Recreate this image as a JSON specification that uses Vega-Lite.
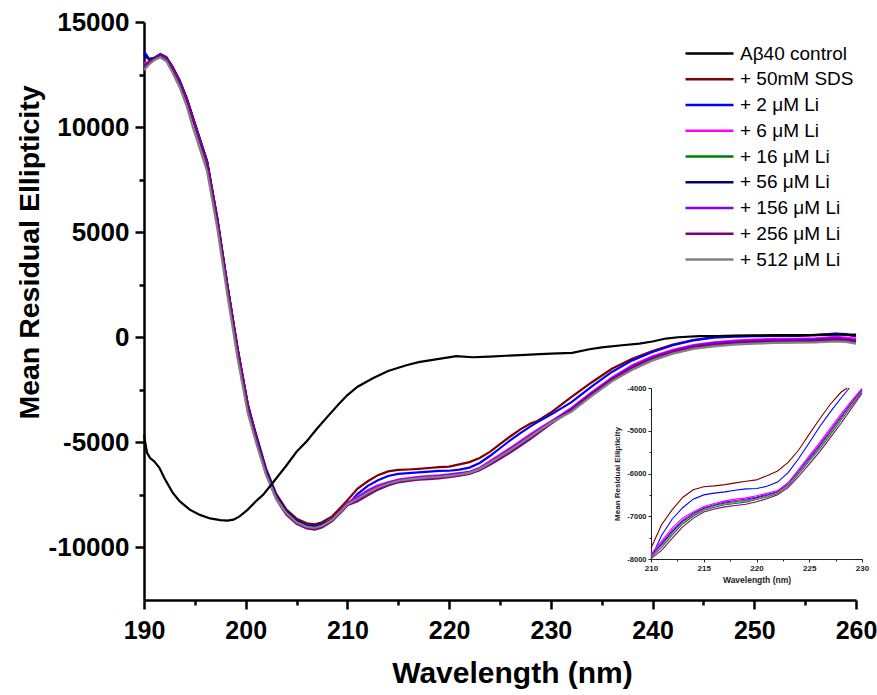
{
  "$schema": "https://vega.github.io/schema/vega-lite/v6.json",
  "width": 712,
  "height": 578,
  "autosize": {"type": "none"},
  "padding": {"left": 144, "top": 22, "right": 21, "bottom": 95},
  "background": "white",
  "config": {"view": {"stroke": null}, "font": "Liberation Sans"},
  "data": {"values": [
    {"w":190,"+ 50mM SDS":13000,"+ 2 μM Li":13600,"+ 6 μM Li":13050,"+ 16 μM Li":12900,"+ 56 μM Li":13450,"+ 156 μM Li":12800,"+ 256 μM Li":12950,"+ 512 μM Li":12700},
    {"w":190.5,"+ 50mM SDS":13100,"+ 2 μM Li":13250,"+ 6 μM Li":13080,"+ 16 μM Li":13050,"+ 56 μM Li":13200,"+ 156 μM Li":13000,"+ 256 μM Li":13080,"+ 512 μM Li":12980},
    {"w":191,"+ 50mM SDS":13250,"+ 2 μM Li":13300,"+ 6 μM Li":13250,"+ 16 μM Li":13220,"+ 56 μM Li":13280,"+ 156 μM Li":13230,"+ 256 μM Li":13260,"+ 512 μM Li":13180},
    {"w":191.6,"+ 50mM SDS":13400,"+ 2 μM Li":13450,"+ 6 μM Li":13400,"+ 16 μM Li":13350,"+ 56 μM Li":13480,"+ 156 μM Li":13430,"+ 256 μM Li":13450,"+ 512 μM Li":13320},
    {"w":192.2,"+ 50mM SDS":13250,"+ 2 μM Li":13300,"+ 6 μM Li":13250,"+ 16 μM Li":13200,"+ 56 μM Li":13330,"+ 156 μM Li":13280,"+ 256 μM Li":13300,"+ 512 μM Li":13130},
    {"w":192.8,"+ 50mM SDS":12800,"+ 2 μM Li":12850,"+ 6 μM Li":12800,"+ 16 μM Li":12750,"+ 56 μM Li":12880,"+ 156 μM Li":12830,"+ 256 μM Li":12850,"+ 512 μM Li":12600},
    {"w":193.5,"+ 50mM SDS":12150,"+ 2 μM Li":12200,"+ 6 μM Li":12150,"+ 16 μM Li":12100,"+ 56 μM Li":12230,"+ 156 μM Li":12180,"+ 256 μM Li":12200,"+ 512 μM Li":11900},
    {"w":194.2,"+ 50mM SDS":11300,"+ 2 μM Li":11350,"+ 6 μM Li":11300,"+ 16 μM Li":11250,"+ 56 μM Li":11380,"+ 156 μM Li":11330,"+ 256 μM Li":11350,"+ 512 μM Li":11000},
    {"w":194.8,"+ 50mM SDS":10400,"+ 2 μM Li":10450,"+ 6 μM Li":10400,"+ 16 μM Li":10350,"+ 56 μM Li":10480,"+ 156 μM Li":10430,"+ 256 μM Li":10450,"+ 512 μM Li":10000},
    {"w":195.5,"+ 50mM SDS":9350,"+ 2 μM Li":9400,"+ 6 μM Li":9350,"+ 16 μM Li":9300,"+ 56 μM Li":9430,"+ 156 μM Li":9380,"+ 256 μM Li":9400,"+ 512 μM Li":8950},
    {"w":196.2,"+ 50mM SDS":8300,"+ 2 μM Li":8350,"+ 6 μM Li":8300,"+ 16 μM Li":8250,"+ 56 μM Li":8380,"+ 156 μM Li":8330,"+ 256 μM Li":8350,"+ 512 μM Li":7900},
    {"w":197.2,"+ 50mM SDS":5600,"+ 2 μM Li":5650,"+ 6 μM Li":5600,"+ 16 μM Li":5550,"+ 56 μM Li":5680,"+ 156 μM Li":5630,"+ 256 μM Li":5650,"+ 512 μM Li":5200},
    {"w":198.2,"+ 50mM SDS":2400,"+ 2 μM Li":2450,"+ 6 μM Li":2400,"+ 16 μM Li":2350,"+ 56 μM Li":2480,"+ 156 μM Li":2430,"+ 256 μM Li":2450,"+ 512 μM Li":2000},
    {"w":199.2,"+ 50mM SDS":-600,"+ 2 μM Li":-550,"+ 6 μM Li":-600,"+ 16 μM Li":-650,"+ 56 μM Li":-520,"+ 156 μM Li":-570,"+ 256 μM Li":-550,"+ 512 μM Li":-1000},
    {"w":200.2,"+ 50mM SDS":-3250,"+ 2 μM Li":-3200,"+ 6 μM Li":-3250,"+ 16 μM Li":-3300,"+ 56 μM Li":-3170,"+ 156 μM Li":-3220,"+ 256 μM Li":-3200,"+ 512 μM Li":-3600},
    {"w":201.1,"+ 50mM SDS":-4750,"+ 2 μM Li":-4840,"+ 6 μM Li":-4930,"+ 16 μM Li":-4900,"+ 56 μM Li":-4880,"+ 156 μM Li":-4940,"+ 256 μM Li":-5000,"+ 512 μM Li":-5150},
    {"w":202,"+ 50mM SDS":-6250,"+ 2 μM Li":-6340,"+ 6 μM Li":-6430,"+ 16 μM Li":-6400,"+ 56 μM Li":-6380,"+ 156 μM Li":-6440,"+ 256 μM Li":-6500,"+ 512 μM Li":-6550},
    {"w":203,"+ 50mM SDS":-7450,"+ 2 μM Li":-7540,"+ 6 μM Li":-7630,"+ 16 μM Li":-7600,"+ 56 μM Li":-7580,"+ 156 μM Li":-7640,"+ 256 μM Li":-7700,"+ 512 μM Li":-7680},
    {"w":204,"+ 50mM SDS":-8200,"+ 2 μM Li":-8290,"+ 6 μM Li":-8380,"+ 16 μM Li":-8350,"+ 56 μM Li":-8330,"+ 156 μM Li":-8390,"+ 256 μM Li":-8450,"+ 512 μM Li":-8370},
    {"w":205,"+ 50mM SDS":-8630,"+ 2 μM Li":-8720,"+ 6 μM Li":-8810,"+ 16 μM Li":-8780,"+ 56 μM Li":-8760,"+ 156 μM Li":-8820,"+ 256 μM Li":-8880,"+ 512 μM Li":-8800},
    {"w":206,"+ 50mM SDS":-8850,"+ 2 μM Li":-8940,"+ 6 μM Li":-9030,"+ 16 μM Li":-9000,"+ 56 μM Li":-8980,"+ 156 μM Li":-9040,"+ 256 μM Li":-9100,"+ 512 μM Li":-9020},
    {"w":206.8,"+ 50mM SDS":-8900,"+ 2 μM Li":-8990,"+ 6 μM Li":-9080,"+ 16 μM Li":-9050,"+ 56 μM Li":-9030,"+ 156 μM Li":-9090,"+ 256 μM Li":-9150,"+ 512 μM Li":-9070},
    {"w":207.5,"+ 50mM SDS":-8800,"+ 2 μM Li":-8890,"+ 6 μM Li":-8980,"+ 16 μM Li":-8950,"+ 56 μM Li":-8930,"+ 156 μM Li":-8990,"+ 256 μM Li":-9050,"+ 512 μM Li":-8970},
    {"w":208.5,"+ 50mM SDS":-8520,"+ 2 μM Li":-8680,"+ 6 μM Li":-8650,"+ 16 μM Li":-8680,"+ 56 μM Li":-8660,"+ 156 μM Li":-8680,"+ 256 μM Li":-8750,"+ 512 μM Li":-8690},
    {"w":209.5,"+ 50mM SDS":-8020,"+ 2 μM Li":-8230,"+ 6 μM Li":-8150,"+ 16 μM Li":-8220,"+ 56 μM Li":-8190,"+ 156 μM Li":-8180,"+ 256 μM Li":-8260,"+ 512 μM Li":-8210},
    {"w":210,"+ 50mM SDS":-7750,"+ 2 μM Li":-7980,"+ 6 μM Li":-7890,"+ 16 μM Li":-7960,"+ 56 μM Li":-7930,"+ 156 μM Li":-7920,"+ 256 μM Li":-7990,"+ 512 μM Li":-7950},
    {"w":211,"+ 50mM SDS":-7200,"+ 2 μM Li":-7450,"+ 6 μM Li":-7580,"+ 16 μM Li":-7730,"+ 56 μM Li":-7660,"+ 156 μM Li":-7630,"+ 256 μM Li":-7800,"+ 512 μM Li":-7690},
    {"w":212,"+ 50mM SDS":-6850,"+ 2 μM Li":-7070,"+ 6 μM Li":-7280,"+ 16 μM Li":-7440,"+ 56 μM Li":-7370,"+ 156 μM Li":-7330,"+ 256 μM Li":-7520,"+ 512 μM Li":-7400},
    {"w":213,"+ 50mM SDS":-6560,"+ 2 μM Li":-6800,"+ 6 μM Li":-7040,"+ 16 μM Li":-7180,"+ 56 μM Li":-7120,"+ 156 μM Li":-7090,"+ 256 μM Li":-7250,"+ 512 μM Li":-7150},
    {"w":214,"+ 50mM SDS":-6380,"+ 2 μM Li":-6600,"+ 6 μM Li":-6900,"+ 16 μM Li":-7000,"+ 56 μM Li":-6960,"+ 156 μM Li":-6930,"+ 256 μM Li":-7050,"+ 512 μM Li":-6970},
    {"w":215,"+ 50mM SDS":-6310,"+ 2 μM Li":-6500,"+ 6 μM Li":-6770,"+ 16 μM Li":-6860,"+ 56 μM Li":-6820,"+ 156 μM Li":-6800,"+ 256 μM Li":-6900,"+ 512 μM Li":-6840},
    {"w":216,"+ 50mM SDS":-6290,"+ 2 μM Li":-6460,"+ 6 μM Li":-6700,"+ 16 μM Li":-6790,"+ 56 μM Li":-6750,"+ 156 μM Li":-6730,"+ 256 μM Li":-6830,"+ 512 μM Li":-6760},
    {"w":217,"+ 50mM SDS":-6260,"+ 2 μM Li":-6430,"+ 6 μM Li":-6640,"+ 16 μM Li":-6730,"+ 56 μM Li":-6690,"+ 156 μM Li":-6670,"+ 256 μM Li":-6780,"+ 512 μM Li":-6710},
    {"w":218,"+ 50mM SDS":-6220,"+ 2 μM Li":-6390,"+ 6 μM Li":-6600,"+ 16 μM Li":-6700,"+ 56 μM Li":-6660,"+ 156 μM Li":-6630,"+ 256 μM Li":-6750,"+ 512 μM Li":-6670},
    {"w":219,"+ 50mM SDS":-6180,"+ 2 μM Li":-6360,"+ 6 μM Li":-6570,"+ 16 μM Li":-6670,"+ 56 μM Li":-6630,"+ 156 μM Li":-6600,"+ 256 μM Li":-6720,"+ 512 μM Li":-6640},
    {"w":220,"+ 50mM SDS":-6150,"+ 2 μM Li":-6350,"+ 6 μM Li":-6520,"+ 16 μM Li":-6610,"+ 56 μM Li":-6570,"+ 156 μM Li":-6550,"+ 256 μM Li":-6660,"+ 512 μM Li":-6590},
    {"w":221,"+ 50mM SDS":-6050,"+ 2 μM Li":-6300,"+ 6 μM Li":-6460,"+ 16 μM Li":-6550,"+ 56 μM Li":-6510,"+ 156 μM Li":-6490,"+ 256 μM Li":-6590,"+ 512 μM Li":-6530},
    {"w":222,"+ 50mM SDS":-5940,"+ 2 μM Li":-6200,"+ 6 μM Li":-6400,"+ 16 μM Li":-6470,"+ 56 μM Li":-6440,"+ 156 μM Li":-6420,"+ 256 μM Li":-6500,"+ 512 μM Li":-6450},
    {"w":223,"+ 50mM SDS":-5740,"+ 2 μM Li":-5980,"+ 6 μM Li":-6210,"+ 16 μM Li":-6290,"+ 56 μM Li":-6260,"+ 156 μM Li":-6240,"+ 256 μM Li":-6330,"+ 512 μM Li":-6270},
    {"w":224,"+ 50mM SDS":-5450,"+ 2 μM Li":-5650,"+ 6 μM Li":-5900,"+ 16 μM Li":-6010,"+ 56 μM Li":-5970,"+ 156 μM Li":-5940,"+ 256 μM Li":-6070,"+ 512 μM Li":-5980},
    {"w":225,"+ 50mM SDS":-5080,"+ 2 μM Li":-5280,"+ 6 μM Li":-5580,"+ 16 μM Li":-5710,"+ 56 μM Li":-5660,"+ 156 μM Li":-5630,"+ 256 μM Li":-5780,"+ 512 μM Li":-5680},
    {"w":226,"+ 50mM SDS":-4720,"+ 2 μM Li":-4900,"+ 6 μM Li":-5270,"+ 16 μM Li":-5420,"+ 56 μM Li":-5360,"+ 156 μM Li":-5320,"+ 256 μM Li":-5490,"+ 512 μM Li":-5380},
    {"w":227,"+ 50mM SDS":-4380,"+ 2 μM Li":-4560,"+ 6 μM Li":-4940,"+ 16 μM Li":-5090,"+ 56 μM Li":-5030,"+ 156 μM Li":-4990,"+ 256 μM Li":-5160,"+ 512 μM Li":-5050},
    {"w":228,"+ 50mM SDS":-4100,"+ 2 μM Li":-4240,"+ 6 μM Li":-4610,"+ 16 μM Li":-4760,"+ 56 μM Li":-4700,"+ 156 μM Li":-4660,"+ 256 μM Li":-4830,"+ 512 μM Li":-4720},
    {"w":228.6,"+ 50mM SDS":-4000},
    {"w":228.8,"+ 2 μM Li":-4000},
    {"w":229,"+ 50mM SDS":-3880,"+ 2 μM Li":-3950,"+ 6 μM Li":-4300,"+ 16 μM Li":-4420,"+ 56 μM Li":-4370,"+ 156 μM Li":-4340,"+ 256 μM Li":-4480,"+ 512 μM Li":-4390},
    {"w":230,"+ 50mM SDS":-3580,"+ 2 μM Li":-3680,"+ 6 μM Li":-4010,"+ 16 μM Li":-4080,"+ 56 μM Li":-4050,"+ 156 μM Li":-4040,"+ 256 μM Li":-4120,"+ 512 μM Li":-4070},
    {"w":232,"+ 50mM SDS":-2850,"+ 2 μM Li":-3100,"+ 6 μM Li":-3370,"+ 16 μM Li":-3490,"+ 56 μM Li":-3440,"+ 156 μM Li":-3410,"+ 256 μM Li":-3460,"+ 512 μM Li":-3550},
    {"w":234,"+ 50mM SDS":-2150,"+ 2 μM Li":-2350,"+ 6 μM Li":-2620,"+ 16 μM Li":-2740,"+ 56 μM Li":-2690,"+ 156 μM Li":-2660,"+ 256 μM Li":-2710,"+ 512 μM Li":-2800},
    {"w":236,"+ 50mM SDS":-1500,"+ 2 μM Li":-1650,"+ 6 μM Li":-1920,"+ 16 μM Li":-2040,"+ 56 μM Li":-1990,"+ 156 μM Li":-1960,"+ 256 μM Li":-2010,"+ 512 μM Li":-2100},
    {"w":238,"+ 50mM SDS":-1020,"+ 2 μM Li":-1100,"+ 6 μM Li":-1330,"+ 16 μM Li":-1480,"+ 56 μM Li":-1410,"+ 156 μM Li":-1380,"+ 256 μM Li":-1440,"+ 512 μM Li":-1550},
    {"w":240,"+ 50mM SDS":-650,"+ 2 μM Li":-700,"+ 6 μM Li":-900,"+ 16 μM Li":-1030,"+ 56 μM Li":-980,"+ 156 μM Li":-950,"+ 256 μM Li":-1000,"+ 512 μM Li":-1100},
    {"w":242,"+ 50mM SDS":-350,"+ 2 μM Li":-380,"+ 6 μM Li":-600,"+ 16 μM Li":-720,"+ 56 μM Li":-670,"+ 156 μM Li":-640,"+ 256 μM Li":-690,"+ 512 μM Li":-780},
    {"w":244,"+ 50mM SDS":-130,"+ 2 μM Li":-150,"+ 6 μM Li":-370,"+ 16 μM Li":-490,"+ 56 μM Li":-440,"+ 156 μM Li":-410,"+ 256 μM Li":-460,"+ 512 μM Li":-550},
    {"w":246,"+ 50mM SDS":0,"+ 2 μM Li":-20,"+ 6 μM Li":-240,"+ 16 μM Li":-370,"+ 56 μM Li":-310,"+ 156 μM Li":-280,"+ 256 μM Li":-340,"+ 512 μM Li":-430},
    {"w":248,"+ 50mM SDS":50,"+ 2 μM Li":30,"+ 6 μM Li":-160,"+ 16 μM Li":-290,"+ 56 μM Li":-230,"+ 156 μM Li":-200,"+ 256 μM Li":-260,"+ 512 μM Li":-350},
    {"w":250,"+ 50mM SDS":70,"+ 2 μM Li":50,"+ 6 μM Li":-110,"+ 16 μM Li":-240,"+ 56 μM Li":-180,"+ 156 μM Li":-150,"+ 256 μM Li":-210,"+ 512 μM Li":-300},
    {"w":252,"+ 50mM SDS":80,"+ 2 μM Li":60,"+ 6 μM Li":-80,"+ 16 μM Li":-210,"+ 56 μM Li":-150,"+ 156 μM Li":-120,"+ 256 μM Li":-180,"+ 512 μM Li":-270},
    {"w":254,"+ 50mM SDS":60,"+ 2 μM Li":60,"+ 6 μM Li":-70,"+ 16 μM Li":-190,"+ 56 μM Li":-140,"+ 156 μM Li":-110,"+ 256 μM Li":-160,"+ 512 μM Li":-250},
    {"w":256,"+ 50mM SDS":120,"+ 2 μM Li":100,"+ 6 μM Li":-50,"+ 16 μM Li":-180,"+ 56 μM Li":-130,"+ 156 μM Li":-90,"+ 256 μM Li":-150,"+ 512 μM Li":-240},
    {"w":258,"+ 50mM SDS":160,"+ 2 μM Li":180,"+ 6 μM Li":20,"+ 16 μM Li":-130,"+ 56 μM Li":-70,"+ 156 μM Li":-30,"+ 256 μM Li":-90,"+ 512 μM Li":-200},
    {"w":259,"+ 50mM SDS":120,"+ 2 μM Li":150,"+ 6 μM Li":-20,"+ 16 μM Li":-150,"+ 56 μM Li":-100,"+ 156 μM Li":-70,"+ 256 μM Li":-120,"+ 512 μM Li":-220},
    {"w":260,"+ 50mM SDS":40,"+ 2 μM Li":60,"+ 6 μM Li":-80,"+ 16 μM Li":-230,"+ 56 μM Li":-170,"+ 156 μM Li":-130,"+ 256 μM Li":-190,"+ 512 μM Li":-300},
    {"w":190,"Aβ40 control":-4650},
    {"w":190.3,"Aβ40 control":-5500},
    {"w":190.6,"Aβ40 control":-5750},
    {"w":191,"Aβ40 control":-5900},
    {"w":191.5,"Aβ40 control":-6200},
    {"w":192,"Aβ40 control":-6700},
    {"w":192.8,"Aβ40 control":-7380},
    {"w":193.5,"Aβ40 control":-7800},
    {"w":194.5,"Aβ40 control":-8200},
    {"w":195.5,"Aβ40 control":-8450},
    {"w":196.5,"Aβ40 control":-8620},
    {"w":197.5,"Aβ40 control":-8700},
    {"w":198.2,"Aβ40 control":-8720},
    {"w":198.8,"Aβ40 control":-8680},
    {"w":199.4,"Aβ40 control":-8520},
    {"w":200.2,"Aβ40 control":-8200},
    {"w":201,"Aβ40 control":-7800},
    {"w":201.7,"Aβ40 control":-7500},
    {"w":202.7,"Aβ40 control":-6900},
    {"w":204,"Aβ40 control":-6100},
    {"w":205,"Aβ40 control":-5450},
    {"w":206,"Aβ40 control":-4950},
    {"w":207,"Aβ40 control":-4350},
    {"w":208,"Aβ40 control":-3800},
    {"w":209.2,"Aβ40 control":-3150},
    {"w":210,"Aβ40 control":-2750},
    {"w":211,"Aβ40 control":-2350},
    {"w":212.5,"Aβ40 control":-1950},
    {"w":214,"Aβ40 control":-1600},
    {"w":215.8,"Aβ40 control":-1330},
    {"w":217,"Aβ40 control":-1180},
    {"w":219,"Aβ40 control":-1030},
    {"w":220.7,"Aβ40 control":-900},
    {"w":222.3,"Aβ40 control":-950},
    {"w":224,"Aβ40 control":-920},
    {"w":225.6,"Aβ40 control":-880},
    {"w":227,"Aβ40 control":-850},
    {"w":228.9,"Aβ40 control":-800},
    {"w":230,"Aβ40 control":-780},
    {"w":232.1,"Aβ40 control":-740},
    {"w":233.8,"Aβ40 control":-570},
    {"w":235,"Aβ40 control":-480},
    {"w":237,"Aβ40 control":-380},
    {"w":238.7,"Aβ40 control":-300},
    {"w":240,"Aβ40 control":-200},
    {"w":241.3,"Aβ40 control":-60},
    {"w":242.5,"Aβ40 control":0},
    {"w":244.6,"Aβ40 control":50},
    {"w":246.3,"Aβ40 control":60},
    {"w":248,"Aβ40 control":80},
    {"w":250,"Aβ40 control":90},
    {"w":252,"Aβ40 control":100},
    {"w":254,"Aβ40 control":100},
    {"w":256,"Aβ40 control":100},
    {"w":258,"Aβ40 control":120},
    {"w":260,"Aβ40 control":130}
  ]},
  "transform": [
    {"fold": ["+ 50mM SDS","+ 2 μM Li","+ 6 μM Li","+ 16 μM Li","+ 56 μM Li","+ 156 μM Li","+ 256 μM Li","+ 512 μM Li","Aβ40 control"], "as": ["key","v"]},
    {"filter": "isValid(datum.v)"}
  ],
  "layer": [
    {
      "mark": {"type": "line", "strokeWidth": 2.2},
      "encoding": {
        "x": {"field": "w", "type": "quantitative", "scale": {"domain": [190, 260], "nice": false, "zero": false},
          "axis": {"title": "Wavelength (nm)", "orient": "bottom", "values": [190,195,200,205,210,215,220,225,230,235,240,245,250,255,260],
            "labelExpr": "datum.value % 10 === 0 ? toString(datum.value) : ''",
            "tickSize": {"condition": {"test": "datum.value % 10 === 0", "value": 9}, "value": 5},
            "grid": false, "domainColor": "black", "domainWidth": 2.5, "tickColor": "black", "tickWidth": 2.5,
            "labelFont": "Liberation Sans", "labelFontWeight": "bold", "labelFontSize": 25, "labelColor": "black", "labelPadding": 9,
            "labelOverlap": false, "labelFlush": false,
            "titleFont": "Liberation Sans", "titleFontWeight": "bold", "titleFontSize": 30, "titleColor": "black", "titlePadding": 15,
            "titleX": 368}},
        "y": {"field": "v", "type": "quantitative", "scale": {"domain": [-12500, 15000], "nice": false, "zero": false},
          "axis": {"title": "Mean Residual Ellipticity", "orient": "left", "values": [-10000,-7500,-5000,-2500,0,2500,5000,7500,10000,12500,15000],
            "labelExpr": "datum.value % 5000 === 0 ? toString(datum.value) : ''",
            "tickSize": {"condition": {"test": "datum.value % 5000 === 0", "value": 9}, "value": 5},
            "grid": false, "domainColor": "black", "domainWidth": 2.5, "tickColor": "black", "tickWidth": 2.5,
            "labelFont": "Liberation Sans", "labelFontWeight": "bold", "labelFontSize": 26, "labelColor": "black", "labelPadding": 6,
            "labelOverlap": false, "labelFlush": false,
            "titleFont": "Liberation Sans", "titleFontWeight": "bold", "titleFontSize": 28.5, "titleColor": "black",
            "titleX": -115, "titleY": 230, "titleBaseline": "middle", "titleAngle": -90}},
        "color": {"field": "key", "type": "nominal",
          "scale": {"domain": ["Aβ40 control","+ 50mM SDS","+ 2 μM Li","+ 6 μM Li","+ 16 μM Li","+ 56 μM Li","+ 156 μM Li","+ 256 μM Li","+ 512 μM Li"],
                    "range": ["#000000","#800000","#0000FF","#FF00FF","#008000","#000080","#8000FF","#800080","#808080"]},
          "legend": {"orient": "none", "legendX": 540, "legendY": 19, "title": null, "symbolType": "stroke", "symbolSize": 2304, "symbolStrokeWidth": 2.5,
            "clipHeight": 25, "rowPadding": 0.75,
            "labelFont": "Liberation Sans", "labelFontSize": 19, "labelColor": "black", "labelOffset": 5, "labelLimit": 300}}
      }
    },
    {
      "transform": [{"filter": "datum.key !== 'Aβ40 control' && datum.w >= 210 && datum.w <= 230 && datum.v >= -8000 && datum.v <= -4000"}],
      "mark": {"type": "line", "strokeWidth": 1.1},
      "encoding": {
        "x": {"field": "w", "type": "quantitative", "scale": {"domain": [210, 230], "range": [507, 718], "nice": false, "zero": false},
          "axis": {"title": "Wavelength (nm)", "orient": "bottom", "offset": -41, "values": [210,212.5,215,217.5,220,222.5,225,227.5,230],
            "labelExpr": "datum.value % 5 === 0 ? toString(datum.value) : ''",
            "tickSize": {"condition": {"test": "datum.value % 5 === 0", "value": 3}, "value": 2},
            "grid": false, "domainColor": "#222", "domainWidth": 1, "tickColor": "#222", "tickWidth": 1,
            "labelFont": "Liberation Sans", "labelFontWeight": "bold", "labelFontSize": 8, "labelColor": "#222", "labelPadding": 2,
            "labelOverlap": false, "labelFlush": false,
            "titleFont": "Liberation Sans", "titleFontWeight": "bold", "titleFontSize": 8.5, "titleColor": "#222", "titlePadding": 3}},
        "y": {"field": "v", "type": "quantitative", "scale": {"domain": [-8000, -4000], "range": [537, 366], "nice": false, "zero": false},
          "axis": {"title": "Mean Residual Ellipticity", "orient": "left", "offset": -507, "values": [-8000,-7500,-7000,-6500,-6000,-5500,-5000,-4500,-4000],
            "labelExpr": "datum.value % 1000 === 0 ? toString(datum.value) : ''",
            "tickSize": {"condition": {"test": "datum.value % 1000 === 0", "value": 3}, "value": 2},
            "grid": false, "domainColor": "#222", "domainWidth": 1, "tickColor": "#222", "tickWidth": 1,
            "labelFont": "Liberation Sans", "labelFontWeight": "bold", "labelFontSize": 7.5, "labelColor": "#222", "labelPadding": 2,
            "labelOverlap": false, "labelFlush": false,
            "titleFont": "Liberation Sans", "titleFontWeight": "bold", "titleFontSize": 8, "titleColor": "#222", "titlePadding": 5}},
        "color": {"field": "key", "type": "nominal", "legend": null}
      }
    }
  ],
  "resolve": {"scale": {"x": "independent", "y": "independent"}}
}
